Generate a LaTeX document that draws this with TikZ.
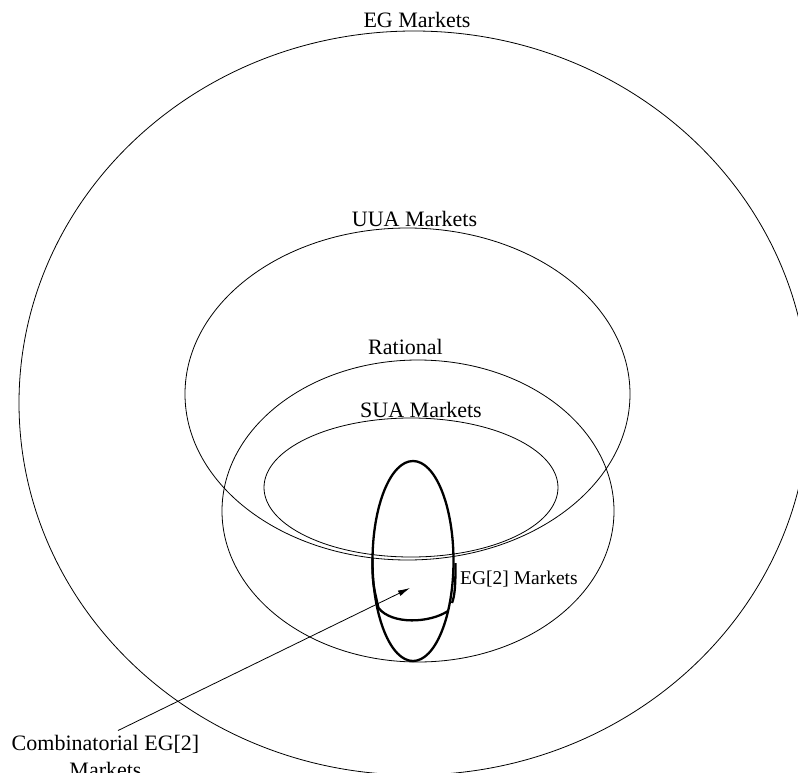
\documentclass[tikz,border=0pt]{standalone}
\usepackage{fontspec}
\setmainfont{Liberation Serif}
\usetikzlibrary{arrows.meta}
\begin{document}
\begin{tikzpicture}[x=1pt,y=-1pt,
  setline/.style={line width=0.8pt},
  egline/.style={line width=2.3pt},
  lab/.style={inner sep=0pt, font=\fontsize{22}{26}\selectfont, anchor=base},
  smalllab/.style={inner sep=0pt, font=\fontsize{19.5}{23}\selectfont, anchor=base west}]
\useasboundingbox (0,0) rectangle (798,773);
\clip (0,0) rectangle (798,773);
% sets
\draw[setline] (414,403) ellipse [x radius=395, y radius=372];
\draw[setline] (407.5,394) ellipse [x radius=222.5, y radius=166];
\draw[setline] (418,511) ellipse [x radius=196, y radius=151];
\draw[setline] (411,487.5) ellipse [x radius=147, y radius=69.5];
\draw[egline] (413,561) ellipse [x radius=40.5, y radius=100];
% combinatorial region
\draw[egline] (372.5,558) .. controls (372.5,582) .. (378.5,608)
  .. controls (392,625) and (430,623) .. (448,611);
\draw[egline] (455.5,563) .. controls (455.5,585) and (455,595) .. (452,603);
% labels
\node[lab] (eg) at (417,28) {EG Markets};
\node[lab] (uua) at (414.5,226) {UUA Markets};
\node[lab] (rat) at (405.5,354) {Rational};
\node[lab] (sua) at (421,417) {SUA Markets};
\node[smalllab] (egtwo) at (460,584) {EG[2] Markets};
\node[lab] (comb1) at (105.5,750) {Combinatorial EG[2]};
\node[lab] (comb2) at (105.5,777) {Markets};
\coordinate (combc) at (410,588);
\draw[setline,-{Latex[length=12pt,width=6pt]}] ([shift={(12.5,-4)}]comb1.north) -- (combc);
\end{tikzpicture}
\end{document}
